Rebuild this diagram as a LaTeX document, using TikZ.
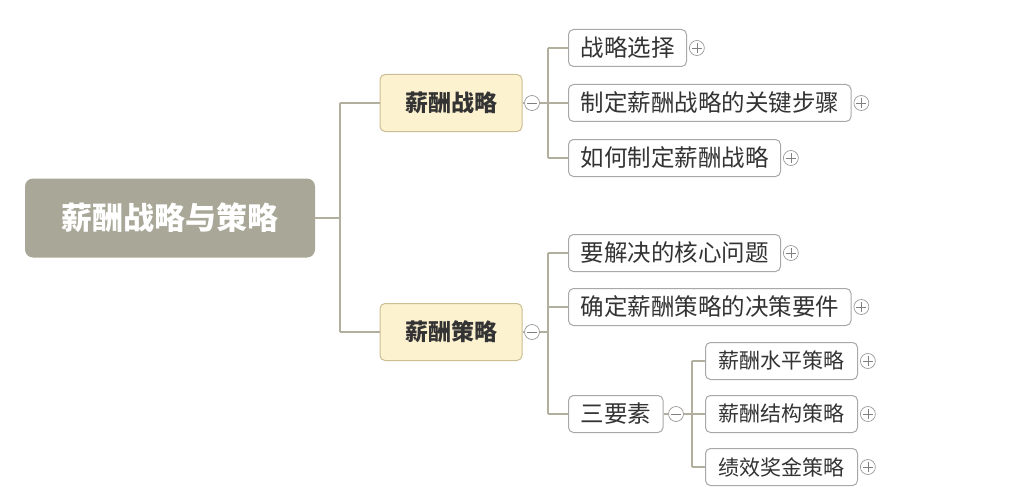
\documentclass[tikz,border=0pt]{standalone}
\usepackage{fontspec}
\setmainfont{Noto Sans CJK SC}
\definecolor{ln}{HTML}{B3AF9E}
\definecolor{rootc}{HTML}{A9A797}
\definecolor{yel}{HTML}{FDF2D0}
\definecolor{yelb}{HTML}{CBBE92}
\definecolor{bx}{HTML}{A8A8A8}
\definecolor{tx}{HTML}{333333}
\begin{document}
\begin{tikzpicture}[x=1pt,y=-1pt,
 conn/.style={draw=ln,line width=2.6pt},
 thin/.style={draw=ln,line width=1.6pt},
 rootbox/.style={fill=rootc,rounded corners=8pt,minimum width=290pt,minimum height=79pt,text=white,font=\fontsize{31}{31}\selectfont\bfseries},
 l1/.style={fill=yel,draw=yelb,line width=1pt,rounded corners=5pt,minimum width=142pt,minimum height=57pt,text=tx,font=\fontsize{23}{23}\selectfont\bfseries},
 l2/.style={fill=white,draw=bx,line width=1pt,rounded corners=5pt,minimum height=37pt,inner xsep=12pt,anchor=west,text=tx,font=\fontsize{23.5}{23.5}\selectfont},
 l3/.style={l2,inner xsep=13pt,font=\fontsize{21}{21}\selectfont},
 tog/.style={circle,draw=gray!80,line width=0.7pt,fill=white,minimum size=15pt,inner sep=0pt}]
\useasboundingbox (0,0) rectangle (1035,500);
\node[rootbox] (root) at (170,218) {薪酬战略与策略};
\node[l1] (a) at (451,103) {薪酬战略};
\node[l1] (b) at (451,332) {薪酬策略};
\node[tog] (ta) at (532,103) {};
\node[tog] (tb) at (532,332) {};
\draw[gray] (ta.center)++(-5,0) -- ++(10,0); \draw[gray] (tb.center)++(-5,0) -- ++(10,0);
\node[l2] (a1) at (568,48) {战略选择};
\node[l2] (a2) at (568,103) {制定薪酬战略的关键步骤};
\node[l2] (a3) at (568,158) {如何制定薪酬战略};
\node[l2] (b1) at (568,253) {要解决的核心问题};
\node[l2] (b2) at (568,307) {确定薪酬策略的决策要件};
\node[l2] (b3) at (568,414) {三要素};
\node[tog] (tb3) at (676,414) {};
\draw[gray] (tb3.center)++(-5,0) -- ++(10,0);
\node[l3] (c1) at (705,361) {薪酬水平策略};
\node[l3] (c2) at (705,414) {薪酬结构策略};
\node[l3] (c3) at (705,467) {绩效奖金策略};
\foreach \n in {a1,a2,a3,b1,b2,c1,c2,c3}{
 \node[tog,anchor=west] (p\n) at ([xshift=2pt]\n.east) {};
 \draw[gray] (p\n.center)++(-5,0) -- ++(10,0) (p\n.center)++(0,-5) -- ++(0,10);}
\draw[conn] (root.east) -- (340,218);
\draw[conn] (340,103) -- (340,332);
\draw[conn] (340,103) -- (a.west);
\draw[conn] (340,332) -- (b.west);
\draw[thin] (a.east) -- (ta.west);
\draw[thin] (b.east) -- (tb.west);
\draw[thin] (ta.east) -- (548,103);
\draw[thin] (548,48) -- (548,158);
\foreach \n in {a1,a2,a3} \draw[thin] (548,0 |- \n.west) -- (\n.west);
\draw[thin] (tb.east) -- (548,332);
\draw[thin] (548,253) -- (548,414);
\foreach \n in {b1,b2,b3} \draw[thin] (548,0 |- \n.west) -- (\n.west);
\draw[thin] (b3.east) -- (tb3.west);
\draw[thin] (tb3.east) -- (692,414);
\draw[thin] (692,361) -- (692,467);
\foreach \n in {c1,c2,c3} \draw[thin] (692,0 |- \n.west) -- (\n.west);
\end{tikzpicture}
\end{document}
